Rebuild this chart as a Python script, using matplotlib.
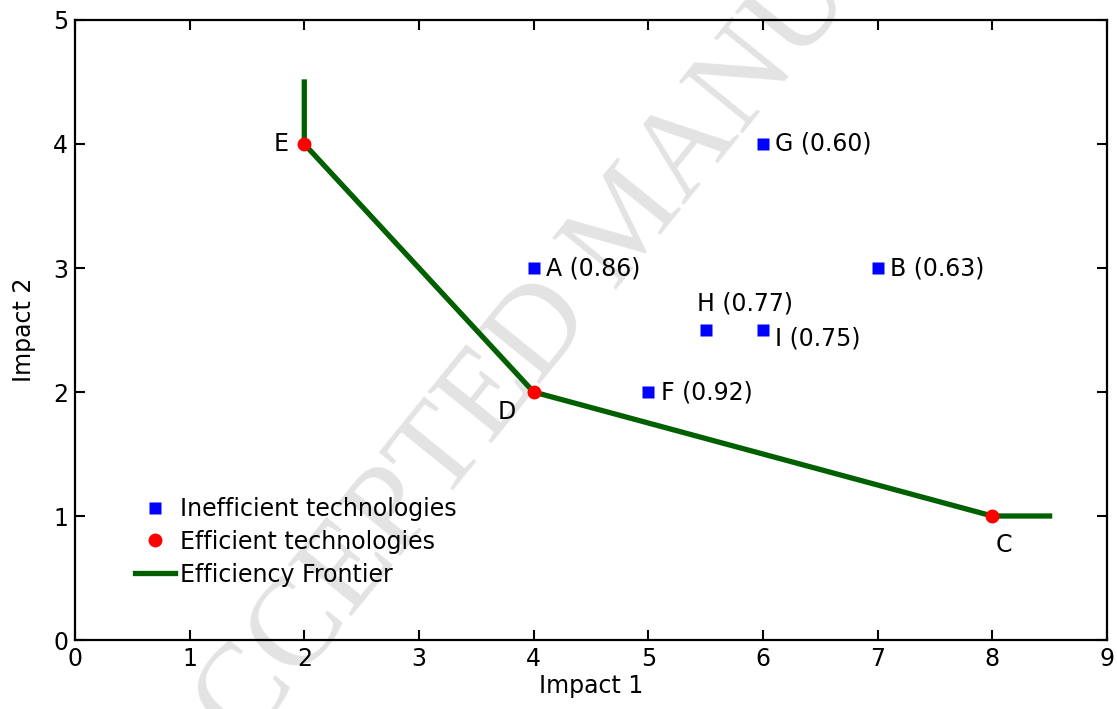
import numpy as np
import matplotlib
matplotlib.use('Agg')
import matplotlib.pyplot as plt

# inefficient technologies (scores in brackets)
ineff_names = ['A', 'B', 'F', 'G', 'H', 'I']
ineff_x = [4, 7, 5, 6, 5.5, 6]
ineff_y = [3, 3, 2, 4, 2.5, 2.5]
ineff_score = ['0.86', '0.63', '0.92', '0.60', '0.77', '0.75']

# efficient technologies
eff_names = ['E', 'D', 'C']
eff_x = [2, 4, 8]
eff_y = [4, 2, 1]

# frontier
front_x = [2, 2, 4, 8, 8.5]
front_y = [4.5, 4, 2, 1, 1]

plt.rcParams['font.family'] = 'DejaVu Sans'

fig = plt.figure(figsize=(11.17, 7.09), dpi=100)
ax = fig.add_axes([0.0671, 0.0973, 0.9239, 0.8745])
ax.set_facecolor('none')
ax.set_zorder(2)

# watermark, behind everything
fig.text(0.565, 0.685, 'ACCEPTED MANUSCRIPT', rotation=51, fontsize=90,
         family='Liberation Serif', color='#e3e3e3', ha='center', va='center',
         rotation_mode='anchor', zorder=-1)

fs = 17
h1, = ax.plot(ineff_x, ineff_y, 's', color='#0000ff', ms=8, mec='none',
              label='Inefficient technologies', zorder=3)
h2, = ax.plot(eff_x, eff_y, 'o', color='#ff0000', ms=10, mec='none',
              label='Efficient technologies', zorder=3)
h3, = ax.plot(front_x, front_y, color='#006000', lw=3.8,
              label='Efficiency Frontier', zorder=2)

offsets = {'H': (-6.5, 19), 'I': (8.5, -6)}
for n, x, y, s in zip(ineff_names, ineff_x, ineff_y, ineff_score):
    dx, dy = offsets.get(n, (9, 0))
    ax.annotate(n + ' (' + s + ')', (x, y), xytext=(dx, dy),
                textcoords='offset points', fontsize=fs, ha='left', va='center')

eff_off = {'E': (-11, 0), 'D': (-19.5, -14.5), 'C': (8, -21)}
for n, x, y in zip(eff_names, eff_x, eff_y):
    dx, dy = eff_off[n]
    ax.annotate(n, (x, y), xytext=(dx, dy), textcoords='offset points',
                fontsize=fs, ha='right' if n == 'E' else 'center', va='center')

ax.set_xlim(0, 9)
ax.set_ylim(0, 5)
ax.set_xticks(np.arange(0, 10, 1))
ax.set_yticks(np.arange(0, 6, 1))
ax.tick_params(direction='in', top=True, right=True, length=7, width=1.5,
               labelsize=fs, pad=5)
for sp in ax.spines.values():
    sp.set_linewidth(1.6)

ax.set_xlabel('Impact 1', fontsize=fs, labelpad=2)
ax.set_ylabel('Impact 2', fontsize=fs, labelpad=12)

ax.legend(handles=[h1, h2, h3], loc='upper left', bbox_to_anchor=(0.058, 0.231),
          frameon=False, fontsize=fs, handlelength=1.7, handletextpad=0.2,
          labelspacing=0.38, borderaxespad=0, borderpad=0)

fig.savefig('out.png', dpi=100)
